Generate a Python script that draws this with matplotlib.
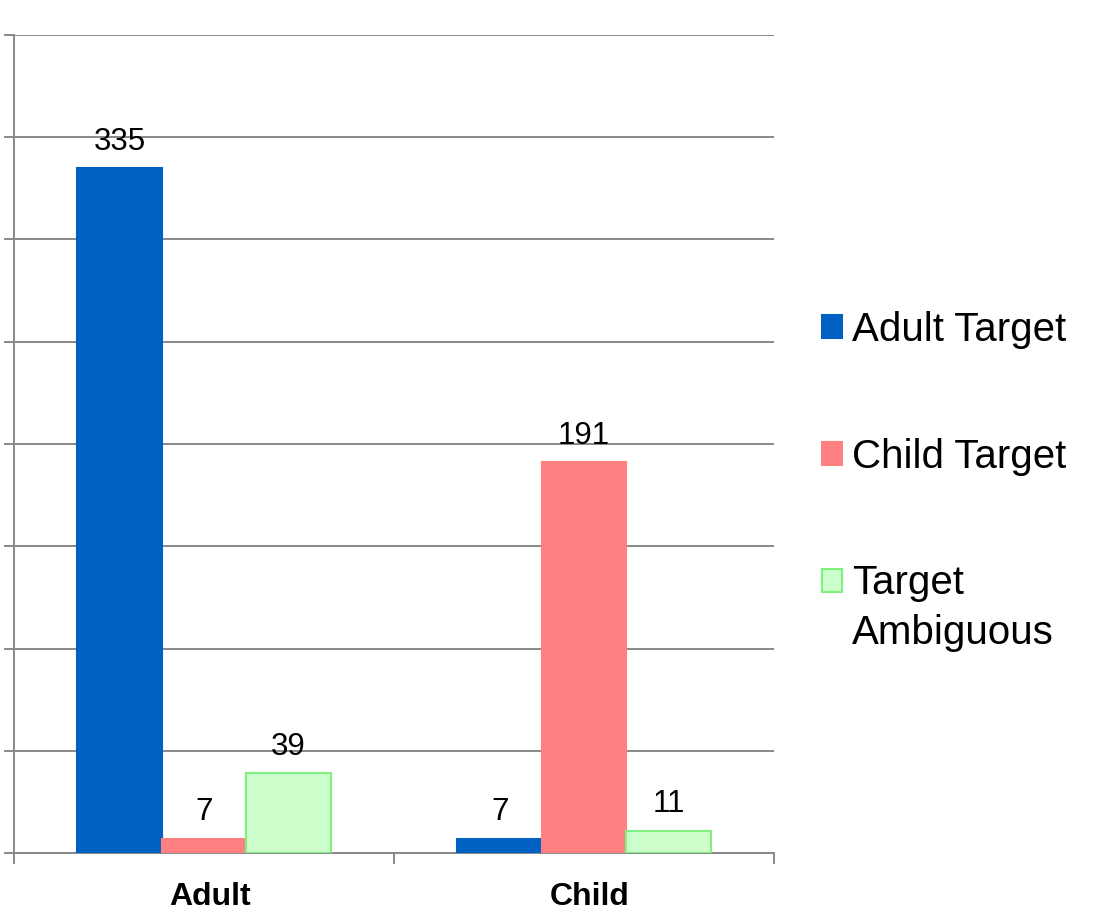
import numpy as np
import matplotlib
matplotlib.use("Agg")
import matplotlib.pyplot as plt
from matplotlib.transforms import ScaledTranslation

plt.rcParams['font.family'] = ['Liberation Sans', 'DejaVu Sans']

# data
groups = ['Adult', 'Child']
series_names = ['Adult Target', 'Child Target', 'Target Ambiguous']
adult_target = [335, 7]
child_target = [7, 191]
target_ambiguous = [39, 11]

fills = ['#0061C3', '#FF8080', '#CCFFCC']
edges = ['#0061C3', '#FF8080', '#80F080']

fig = plt.figure(figsize=(11.08, 9.21), dpi=100)
ax = fig.add_axes([14 / 1108, 1 - 853 / 921, 760 / 1108, 818 / 921])

x = np.arange(len(groups))
w = 0.222
allvals = [adult_target, child_target, target_ambiguous]
for i, vals in enumerate(allvals):
    pos = x + (i - 1) * w
    bars = ax.bar(pos, vals, width=w, color=fills[i], edgecolor=edges[i],
                  linewidth=1.5, label=series_names[i], zorder=3)
    for b, v in zip(bars, vals):
        ax.text(b.get_x() + b.get_width() / 2, v + 9, str(v),
                ha='center', va='baseline', fontsize=22.5, zorder=4)

ax.set_xlim(-0.5, 1.5)
ax.set_ylim(0, 400)
ax.set_yticks(np.arange(0, 401, 50))
ax.set_yticklabels([])
ax.yaxis.grid(True, color='#888888', linewidth=1.4, zorder=0)
ax.tick_params(axis='y', length=7, width=1.4, color='#888888')

# category labels sit between the boundary ticks
ax.set_xticks([-0.5, 0.5, 1.5])
ax.set_xticklabels([])
ax.set_xticks(x, minor=True)
ax.set_xticklabels(groups, minor=True, fontsize=23, fontweight='bold')
ax.tick_params(axis='x', which='major', length=8, width=1.4, color='#888888')
ax.tick_params(axis='x', which='minor', length=0, pad=21)
# labels in the original sit a few px right of centre
shift = ScaledTranslation(6 / 100, 0, fig.dpi_scale_trans)
for lbl in ax.get_xticklabels(minor=True):
    lbl.set_transform(lbl.get_transform() + shift)

for s in ['top', 'right']:
    ax.spines[s].set_visible(False)
for s in ['left', 'bottom']:
    ax.spines[s].set_color('#888888')
    ax.spines[s].set_linewidth(1.4)

# legend: last label wraps onto a second line, box stays on the first line
handles, labels = ax.get_legend_handles_labels()
labels = [l.split(' ')[0] if l == 'Target Ambiguous' else l for l in labels]
leg = fig.legend(handles, labels, loc='upper left',
                 bbox_to_anchor=(802 / 1108, 1 - 291 / 921),
                 frameon=False, fontsize=29, handlelength=0.5, handleheight=0.5,
                 handletextpad=0.25, labelspacing=2.2, borderpad=0)
fig.canvas.draw()
t = leg.get_texts()[2]
bb = t.get_window_extent()
fig.text(bb.x0 / 1108, (bb.y0 - 50) / 921, 'Ambiguous', fontsize=29,
         ha='left', va='bottom')

fig.savefig('out.png', dpi=100)
